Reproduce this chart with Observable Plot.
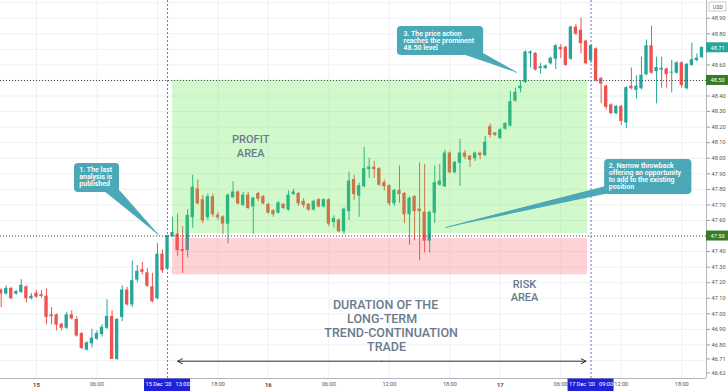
<!DOCTYPE html>
<html><head><meta charset="utf-8">
<script src="https://cdn.jsdelivr.net/npm/d3@7"></script>
<script src="https://cdn.jsdelivr.net/npm/@observablehq/plot@0.6"></script>
<style>html,body{margin:0;padding:0;background:#fff}svg{display:block}</style>
</head><body><div id="chart"></div>
<script>
// 30-minute candles, 14 Dec 20:30 -> 17 Dec 20:00 (index 7 = 15 Dec 00:00)
const opens = [47.15,47.13,47.16,47.13,47.14,47.17,47.10,47.13,47.12,47.11,
46.99,46.99,46.93,46.91,46.99,46.96,46.87,46.77,46.81,46.84,
46.87,46.91,46.98,46.71,46.98,47.15,47.06,47.22,47.28,47.26,
47.17,47.10,47.38,47.29,47.50,47.51,47.41,47.41,47.62,47.80,
47.73,47.62,47.75,47.63,47.62,47.58,47.75,47.78,47.70,47.76,
47.69,47.77,47.75,47.70,47.66,47.65,47.70,47.67,47.77,47.77,
47.72,47.70,47.67,47.73,47.69,47.73,47.59,47.60,47.53,47.66,
47.86,47.76,47.82,47.93,47.94,47.93,47.84,47.82,47.71,47.79,
47.77,47.64,47.75,47.67,47.65,47.47,47.65,47.83,47.82,48.03,
47.91,47.97,48.03,48.01,48.00,48.03,48.02,48.20,48.16,48.13,
48.19,48.21,48.37,48.45,48.49,48.675,48.67,48.58,48.58,48.61,
48.64,48.71,48.71,48.64,48.84,48.82,48.75,48.63,48.70,48.51,
48.46,48.34,48.29,48.33,48.23,48.46,48.44,48.45,48.54,48.72,
48.56,48.57,48.57,48.55,48.55,48.61,48.45,48.60,48.63,48.65];
const highs = [47.16,47.18,47.17,47.15,47.22,47.18,47.13,47.15,47.15,47.16,
47.04,47.00,46.94,47.01,47.02,46.98,46.88,46.82,46.90,46.89,
46.93,47.09,47.02,46.97,47.18,47.17,47.34,47.31,47.33,47.29,
47.26,47.45,47.41,47.50,47.62,47.64,47.56,47.67,47.89,47.86,
47.76,47.77,47.77,47.65,47.63,47.77,47.85,47.79,47.78,47.78,
47.75,47.78,47.76,47.71,47.67,47.72,47.71,47.79,47.80,47.78,
47.74,47.71,47.73,47.74,47.74,47.74,47.63,47.61,47.68,47.91,
47.89,47.84,48.07,48.00,47.98,47.94,47.86,47.83,47.80,47.95,
47.78,47.75,47.76,47.97,47.96,47.66,47.95,47.96,48.05,48.04,
47.98,48.12,48.05,48.02,48.04,48.04,48.14,48.22,48.16,48.19,
48.23,48.43,48.45,48.50,48.69,48.69,48.68,48.61,48.60,48.65,
48.73,48.73,48.72,48.85,48.86,48.90,48.76,48.73,48.71,48.52,
48.47,48.35,48.34,48.34,48.46,48.58,48.53,48.65,48.76,48.85,
48.65,48.65,48.58,48.63,48.62,48.62,48.61,48.74,48.67,48.71];
const lows = [47.04,47.12,47.09,47.12,47.13,47.07,47.09,47.10,47.10,46.93,
46.93,46.89,46.89,46.90,46.96,46.85,46.77,46.76,46.78,46.83,
46.85,46.90,46.71,46.70,46.95,47.05,47.04,47.20,47.25,47.17,
47.07,47.09,47.26,47.28,47.49,47.37,47.26,47.36,47.55,47.70,
47.58,47.60,47.62,47.60,47.51,47.45,47.74,47.70,47.69,47.67,
47.51,47.72,47.70,47.64,47.62,47.64,47.67,47.66,47.76,47.69,
47.68,47.66,47.66,47.68,47.68,47.56,47.55,47.52,47.51,47.60,
47.73,47.62,47.81,47.87,47.87,47.82,47.79,47.69,47.69,47.71,
47.58,47.44,47.47,47.34,47.39,47.39,47.58,47.82,47.81,47.90,
47.90,47.82,47.99,47.94,47.98,47.99,48.01,48.13,48.14,48.12,
48.18,48.20,48.36,48.42,48.48,48.58,48.56,48.54,48.57,48.60,
48.57,48.64,48.59,48.63,48.79,48.67,48.60,48.61,48.49,48.35,
48.31,48.28,48.28,48.21,48.19,48.44,48.38,48.44,48.53,48.54,
48.35,48.45,48.45,48.42,48.54,48.45,48.44,48.59,48.62,48.64];
const closes = [47.13,47.16,47.10,47.14,47.18,47.10,47.11,47.11,47.115,46.98,
46.985,46.93,46.91,46.99,46.97,46.86,46.78,46.81,46.84,46.87,
46.91,46.98,46.71,46.96,47.15,47.06,47.21,47.27,47.27,47.18,
47.08,47.38,47.28,47.50,47.52,47.41,47.405,47.63,47.81,47.71,
47.60,47.75,47.64,47.62,47.58,47.76,47.78,47.71,47.76,47.68,
47.74,47.74,47.71,47.65,47.64,47.71,47.68,47.76,47.78,47.71,
47.70,47.67,47.72,47.69,47.73,47.58,47.61,47.53,47.67,47.85,
47.77,47.82,47.93,47.94,47.93,47.83,47.82,47.71,47.79,47.77,
47.64,47.74,47.66,47.66,47.47,47.65,47.84,47.85,48.03,47.91,
47.97,48.03,48.01,47.99,48.03,48.02,48.10,48.15,48.15,48.18,
48.22,48.36,48.42,48.46,48.68,48.68,48.57,48.585,48.59,48.64,
48.72,48.70,48.60,48.84,48.80,48.74,48.61,48.72,48.50,48.48,
48.33,48.29,48.33,48.24,48.45,48.45,48.46,48.53,48.72,48.55,
48.58,48.575,48.54,48.55,48.61,48.47,48.60,48.63,48.64,48.71];

// axis ticks (bar index) and labels
const dayTickIdx = [7, 53, 99];
const dayTickLabels = ["15", "16", "17"];
const hourTickIdx = [19, 43, 65, 77, 89, 111, 123, 135];
const hourTickLabels = ["06:00", "18:00", "06:00", "12:00", "18:00", "06:00", "12:00", "18:00"];
const gridIdx = [7, 19, 31, 43, 53, 65, 77, 89, 99, 111, 123, 135];
const timeMarkIdx = [33, 117];
const timeMarkLabels = ["15 Dec '20   13:00", "17 Dec '20   09:00"];

const priceTicks = [48.90,48.80,48.60,48.40,48.30,48.20,48.10,48.00,47.90,47.80,47.70,47.60,47.40,47.30,47.20,47.10,47.00,46.90,46.80,46.71,46.62];
const priceGrid = [46.7,46.8,46.9,47.0,47.1,47.2,47.3,47.4,47.5,47.6,47.7,47.8,47.9,48.0,48.1,48.2,48.3,48.4,48.5,48.6,48.7,48.8,48.9,49.0];
const levelLines = [48.50, 47.50];
const priceMarks = [48.71, 48.50, 47.50];
const priceMarkColors = ["#26a69a", "#3b7a24", "#3b7a24"];

// trade zones [start idx, end idx, low, high]
const profitZone = [34, 116.3, 47.516, 48.50];
const riskZone = [34, 116.3, 47.25, 47.484];

// annotations
const zoneTexts = ["PROFIT\nAREA", "RISK\nAREA"];
const zoneTextIdx = [49.5, 103.8];
const zoneTextPrice = [48.082, 47.153];
const durationLines = ["DURATION OF THE", "LONG-TERM", "TREND-CONTINUATION", "TRADE"];
const durationIdx = [76.25, 75.56, 77.35, 76.45];
const durationPrice = [47.056, 46.966, 46.876, 46.786];
const arrowIdx = [35.0, 116.0], arrowPrice = 46.695;

const calloutTexts = ["1. The last\nanalysis is\npublished",
  "2. Narrow throwback\noffering an opportunity\nto add to the existing\nposition",
  "3. The price action\nreaches the prominent\n48.50 level"];
const calloutBoxIdx = [[14.55, 23.48], [119.7, 137.0], [78.6, 95.7]];
const calloutBoxPrice = [[47.780, 47.966], [47.767, 47.992], [48.661, 48.847]];
const calloutTextAt = [[15.5, 47.940], [120.5, 47.967], [79.8, 48.817]];
const pointerIdx = [[20.3, 23.4, 31.1], [88.2, 119.9, 119.9], [92.4, 95.2, 102.2]];
const pointerPrice = [[47.793, 47.793, 47.510], [47.555, 47.818, 47.772], [48.661, 48.680, 48.552]];

// ---- build tables ----
const up = "#26a69a", down = "#ef5350";
const candles = opens.map((o, i) => ({i, o, h: highs[i], l: lows[i], c: closes[i], col: closes[i] >= o ? up : down}));
const xDomain = [-0.13, 139.9];
const yDomain = [46.584, 49.014];
const plotW = 706, plotH = 378;
const idxPerPx = (xDomain[1] - xDomain[0]) / plotW;
const pricePerPx = (yDomain[1] - yDomain[0]) / plotH;

const zones = [
  {x1: profitZone[0], x2: profitZone[1], y1: profitZone[2], y2: profitZone[3], fill: "#4ce632"},
  {x1: riskZone[0], x2: riskZone[1], y1: riskZone[2], y2: riskZone[3], fill: "#ff4f5c"}
];
const zoneLabels = zoneTexts.map((t, k) => ({t, x: zoneTextIdx[k], y: zoneTextPrice[k]}));
const durLabels = durationLines.map((t, k) => ({t, x: durationIdx[k], y: durationPrice[k]}));
const boxes = calloutTexts.map((t, k) => ({t, x1: calloutBoxIdx[k][0], x2: calloutBoxIdx[k][1], y1: calloutBoxPrice[k][0], y2: calloutBoxPrice[k][1], tx: calloutTextAt[k][0], ty: calloutTextAt[k][1]}));
const pointers = [];
pointerIdx.forEach((xs, k) => xs.forEach((x, j) => pointers.push({id: k, x, y: pointerPrice[k][j]})));
const arrowMid = (arrowIdx[0] + arrowIdx[1]) / 2;
const arrows = [{x1: arrowMid, x2: arrowIdx[0]}, {x1: arrowMid, x2: arrowIdx[1]}];
const pMarks = priceMarks.map((v, k) => ({v, col: priceMarkColors[k]}));
const tMarks = timeMarkIdx.map((i, k) => ({i, t: timeMarkLabels[k]}));
const dayMap = new Map(dayTickIdx.map((d, k) => [d, dayTickLabels[k]]));
const hourMap = new Map(hourTickIdx.map((d, k) => [d, hourTickLabels[k]]));
const rightEdge = xDomain[1] + 22 * idxPerPx;
const teal = "#4ba8b6";
const font = "Roboto, 'Liberation Sans', sans-serif";

const chart = Plot.plot({
  width: 728, height: 391,
  marginTop: 0, marginBottom: 13, marginLeft: 0, marginRight: 22,
  style: {fontFamily: font, background: "#fff"},
  x: {type: "linear", domain: xDomain, axis: null},
  y: {type: "linear", domain: yDomain, axis: null},
  color: {type: "identity"},
  marks: [
    Plot.ruleY(priceGrid, {stroke: "#eef1f6"}),
    Plot.ruleX(gridIdx, {stroke: "#eef1f6"}),
    // candles
    Plot.ruleX(candles, {x: "i", y1: "l", y2: "h", stroke: "col", strokeWidth: 1}),
    Plot.rect(candles, {x1: d => d.i - 0.33, x2: d => d.i + 0.33, y1: d => Math.min(d.o, d.c), y2: d => Math.max(d.o, d.c), fill: "col", insetTop: -0.5, insetBottom: -0.5}),
    // zones
    Plot.rect(zones, {x1: "x1", x2: "x2", y1: "y1", y2: "y2", fill: "fill", fillOpacity: 0.25}),
    Plot.ruleY(levelLines, {stroke: "#4a4a4a", strokeDasharray: "1,2", strokeWidth: 1}),
    Plot.ruleX(timeMarkIdx, {stroke: "#6d70d6", strokeDasharray: "2,2", strokeWidth: 1}),
    // zone labels
    Plot.text(zoneLabels, {x: "x", y: "y", text: "t", fontSize: 11, fontWeight: 500, fill: "#6b7a8c", lineHeight: 1.25, textAnchor: "middle"}),
    Plot.text(durLabels, {x: "x", y: "y", text: "t", fontSize: 12.5, fontWeight: 500, fill: "#6b7a8c", textAnchor: "middle"}),
    Plot.arrow(arrows, {x1: "x1", x2: "x2", y1: () => arrowPrice, y2: () => arrowPrice, stroke: "#333", strokeWidth: 1, headLength: 8, headAngle: 55}),
    // callouts
    Plot.line(pointers, {x: "x", y: "y", z: "id", fill: teal, stroke: teal, strokeWidth: 1}),
    Plot.rect(boxes, {x1: "x1", x2: "x2", y1: "y1", y2: "y2", fill: teal, rx: 4}),
    Plot.text(boxes, {x: "tx", y: "ty", text: "t", fill: "#fff", fontSize: 7, fontWeight: 600, lineHeight: 0.98, textAnchor: "start", lineAnchor: "top"}),
    // frame lines
    Plot.ruleX([xDomain[1]], {stroke: "#b2b5be"}),
    Plot.ruleY([yDomain[0]], {stroke: "#b2b5be"}),
    // axes
    Plot.axisY({anchor: "right", ticks: priceTicks, tickFormat: d => d.toFixed(2), tickSize: 3, tickPadding: 2, fontSize: 5.6, color: "#555", stroke: "#999"}),
    Plot.axisX({anchor: "bottom", ticks: hourTickIdx, tickFormat: d => hourMap.get(d), tickSize: 0, tickPadding: 4, fontSize: 5.6, color: "#555"}),
    Plot.axisX({anchor: "bottom", ticks: dayTickIdx, tickFormat: d => dayMap.get(d), tickSize: 0, tickPadding: 4, fontSize: 5.8, fontWeight: 700, color: "#444"}),
    // highlighted price labels
    Plot.rect(pMarks, {x1: () => xDomain[1], x2: () => rightEdge, y1: d => d.v - 5 * pricePerPx, y2: d => d.v + 5 * pricePerPx, fill: "col"}),
    Plot.text(pMarks, {y: "v", frameAnchor: "right", dx: 4, text: d => d.v.toFixed(2), fill: "#fff", fontSize: 5.6, textAnchor: "start"}),
    // USD tag
    Plot.rect([0], {x1: () => xDomain[1] + 3 * idxPerPx, x2: () => xDomain[1] + 20 * idxPerPx, y1: () => yDomain[1] - 11 * pricePerPx, y2: () => yDomain[1] - 2 * pricePerPx, fill: "#fff", stroke: "#aaa", strokeWidth: 0.6}),
    Plot.text(["USD"], {x: () => xDomain[1] + 11.5 * idxPerPx, y: () => yDomain[1] - 6.5 * pricePerPx, text: d => d, fontSize: 5.2, fill: "#555"}),
    // highlighted time labels
    Plot.rect(tMarks, {x1: d => d.i - 23 * idxPerPx, x2: d => d.i + 23 * idxPerPx, y1: () => yDomain[0] - 13 * pricePerPx, y2: () => yDomain[0] - 0.5 * pricePerPx, fill: "#1f22d8"}),
    Plot.text(tMarks, {x: "i", frameAnchor: "bottom", dy: 7, text: "t", fill: "#fff", fontSize: 5.6})
  ]
});
document.getElementById("chart").appendChild(chart);
</script>
</body></html>
